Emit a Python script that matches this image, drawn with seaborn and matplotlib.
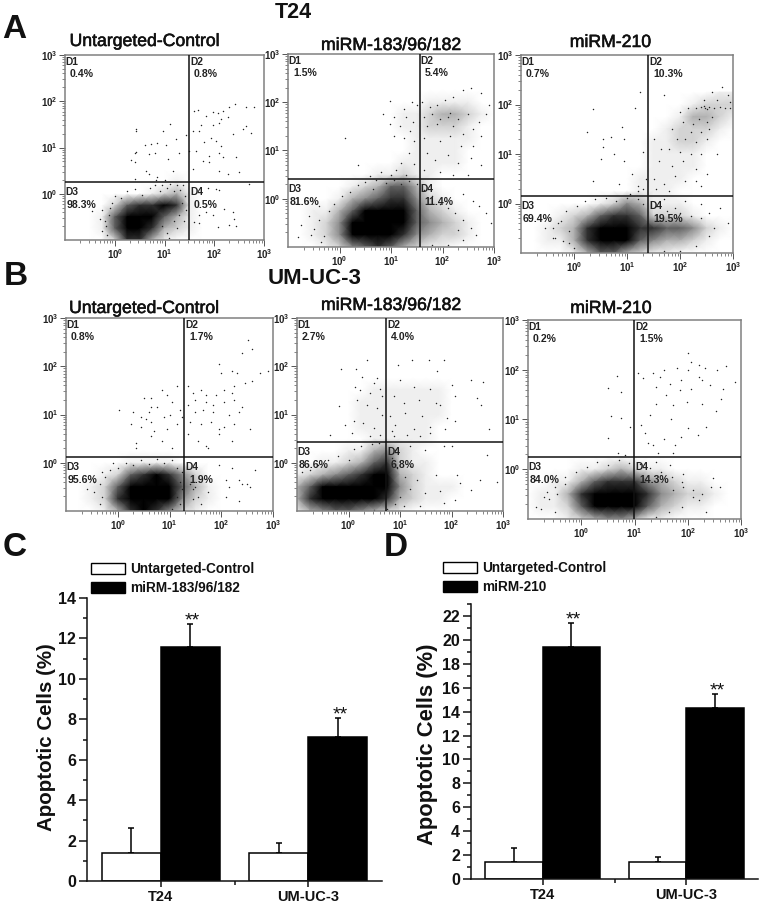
import numpy as np
import pandas as pd
import seaborn as sns
import matplotlib
matplotlib.use("Agg")
import matplotlib.pyplot as plt
import matplotlib.patheffects as pe
from matplotlib.colors import PowerNorm
from matplotlib.ticker import FixedLocator, FixedFormatter, NullFormatter

W, H = 763, 908

# --- flow panels: quadrant percentages (D1, D2, D3, D4)
a1_pct = ["0.4%", "0.8%", "98.3%", "0.5%"]
a2_pct = ["1.5%", "5.4%", "81.6%", "11.4%"]
a3_pct = ["0.7%", "10.3%", "69.4%", "19.5%"]
b1_pct = ["0.8%", "1.7%", "95.6%", "1.9%"]
b2_pct = ["2.7%", "4.0%", "86.6%", "6.8%"]
b3_pct = ["0.2%", "1.5%", "84.0%", "14.3%"]

# quadrant gates, log10 units (x, y)
a1_gate = (1.49, 0.25)
a2_gate = (1.56, 0.41)
a3_gate = (1.40, 0.15)
b1_gate = (1.28, 0.12)
b2_gate = (0.73, 0.43)
b3_gate = (0.99, 0.25)

# cloud darkness read by eye (0 white, 9 black), nodes every 0.25 decade,
# x from -1 to 3, last row is y=-1, going up
a1_cloud = ["00000000000000000",
            "00000000010000000",
            "00000001231000000",
            "00002566761000000",
            "00015997531000000",
            "00015996321000000",
            "00002663100000000"]
a2_cloud = ["00000000000000000",
            "00000000000111100",
            "00000000011233210",
            "00000000011222100",
            "00000000001111100",
            "00000000001111000",
            "00000000011111000",
            "00000001121100000",
            "00000123553100000",
            "00001345664210000",
            "00113578875321000",
            "00124799975432100",
            "00124789864322100",
            "00012456532110000"]
a3_cloud = ["00000000000000011",
            "00000000000001222",
            "00000000000013321",
            "00000000000122210",
            "00000000001122100",
            "00000000001111000",
            "00000000001111000",
            "00000000011110000",
            "00000000011100000",
            "00000012431110000",
            "00012356652221000",
            "00123699866554210",
            "00113699754332100",
            "00001355321100000"]
b1_cloud = ["00000000000000000",
            "00000000000000000",
            "00000111100000000",
            "00012567642000000",
            "00125999853100000",
            "00126999742100000",
            "00013676421000000"]
b2_cloud = ["00000000000000000",
            "00000011111100000",
            "00000111111100000",
            "00000111111100000",
            "00000111111000000",
            "00000011111000000",
            "00001134210000000",
            "00112356211000000",
            "12345677321000000",
            "35789877421110000",
            "36899876321100000",
            "13455432100000000"]
b3_cloud = ["00000000000000000",
            "00000000000000000",
            "00001123211000000",
            "00113566643211000",
            "01136899964322100",
            "01125899853211000",
            "00012344311000000"]

# single events outside the clouds, log10 units
a1_pts = [(0.42,1.41),(0.43,1.35),(1.12,1.5),(0.97,1.35),(1.43,1.27),(0.61,1.05),(0.73,1.07),(0.85,1.10),
          (1.03,1.06),(1.23,1.18),(0.4,0.89),(0.43,0.91),(0.68,0.87),(0.81,0.88),(0.32,0.74),(0.4,0.68),
          (1.07,0.76),(1.3,0.89),(0.63,0.5),(0.68,0.43),(0.85,0.37),(1.17,0.5),(0.4,0.32),(0.83,0.3),(1.0,0.29),
          (1.6,1.79),(1.68,1.82),(1.97,1.76),(2.07,1.75),(2.17,1.79),(2.3,1.88),(2.42,1.94),(2.63,1.88),(2.8,1.88),
          (1.83,1.68),(2.13,1.61),(2.27,1.66),(1.73,1.48),(1.97,1.48),(2.1,1.54),(2.63,1.46),(2.57,1.4),(2.73,1.32),
          (1.57,1.36),(1.7,1.36),(1.93,1.21),(1.8,1.11),(2.03,1.14),(2.13,1.04),(2.37,1.29),(1.5,0.93),(1.63,0.93),
          (1.77,0.71),(1.9,0.82),(2.1,0.89),(2.17,0.79),(2.43,0.79),(1.89,0.68),(2.1,0.5),(2.27,0.43),(2.49,0.46),
          (1.57,0.54),(1.7,-0.46),(1.83,-0.39),(1.97,-0.46),(2.2,-0.32),(2.37,-0.39),(2.4,-0.54),(1.7,-0.64),
          (1.6,-0.61),(2.07,-0.71),(2.3,-0.68),(2.43,-0.7),(2.03,0.11),(2.1,0.09),(1.87,0.12),(2.7,0.21),
          (-0.45,-0.38),(-0.2,-0.6),(-0.25,-0.8),(-0.1,-0.3),(-0.15,-0.9)]
a2_pts = [(.99,2.03),(1.4,2.0),(1.5,1.95),(1.25,1.85),(1.05,1.7),(1.3,1.7),(1.42,1.6),(.85,1.75),(1.18,1.5),
          (1.37,1.4),(.98,1.55),(1.45,1.2),(1.25,1.25),(1.05,1.3),(.1,1.25),(1.35,.95),(1.2,.75),(1.45,.72),
          (1.1,.6),(.35,.7),(.8,.55),(1.0,.5),(.6,.48),(1.3,.5),(1.6,2.0),(1.75,1.9),(1.9,1.95),(2.05,2.05),
          (2.2,2.1),(2.4,2.25),(2.55,2.3),(2.75,2.2),(2.9,1.95),(1.65,1.7),(1.8,1.75),(1.95,1.65),(2.1,1.7),
          (2.15,1.78),(2.3,1.65),(2.5,1.75),(2.7,1.6),(2.85,1.75),(1.7,1.5),(1.9,1.55),(2.2,1.5),(2.4,1.35),
          (2.6,1.45),(2.75,1.3),(1.65,1.25),(1.95,1.2),(2.15,1.3),(2.35,1.1),(2.6,1.1),(1.7,.95),(1.85,.8),
          (2.1,.9),(2.3,.75),(2.55,.85),(2.75,.7),(1.65,.6),(1.95,.55),(2.2,.5),(2.5,.5),(2.85,-.3),(2.95,-.5),
          (2.7,-.15),(2.4,.1),(2.6,-.05),(-.75,-.55),(-.6,-.35),(-.55,-.75),(-.4,-.15),(-.35,-.9),(-.8,-.8)]
a3_pts = [(.35,1.9),(1.15,1.93),(1.25,2.25),(.25,1.45),(.55,1.3),(.9,1.55),(.7,1.35),(.95,1.3),(1.3,1.05),
          (.5,.9),(.95,.85),(.55,1.15),(.75,1.0),(1.1,.6),(.85,.4),(1.2,.35),(1.3,.3),(1.05,.2),(1.2,.25),
          (1.35,.5),(.35,.45),(2.15,1.93),(2.3,1.93),(2.4,1.94),(2.48,1.93),(2.55,1.95),(2.65,1.92),(2.75,1.94),
          (2.85,1.92),(2.95,1.93),(2.5,1.9),(2.45,1.96),(2.6,2.25),(2.8,2.35),(2.9,2.2),(2.45,2.1),(2.7,2.1),
          (2.95,2.05),(1.7,2.2),(2.0,1.85),(2.05,1.65),(2.25,1.6),(2.35,1.7),(2.5,1.65),(2.6,1.75),(2.2,1.45),
          (2.4,1.45),(2.55,1.5),(1.85,1.5),(1.95,1.3),(2.1,1.3),(2.3,1.25),(2.5,1.3),(1.5,1.3),(1.65,1.1),
          (1.8,1.1),(2.0,1.05),(2.2,1.0),(2.4,1.0),(1.6,.85),(1.85,.75),(2.05,.85),(2.3,.7),(2.5,.6),(1.5,.5),
          (1.7,.4),(1.9,.55),(2.1,.45),(2.4,.35),(1.55,.3),(1.8,.25),(2.7,1.0),(2.3,.45),(1.7,.1),(2.1,.05),
          (2.4,.0),(2.75,-.1),(2.9,-.4),(2.65,-.5),(1.9,-.1),(2.55,-.2),(-.4,-.5),(-.3,-.4),(-.35,-.7),
          (-.1,-.55),(-.2,-.75)]
b1_pts = [(.03,1.1),(.3,1.05),(.5,1.35),(.65,1.35),(.85,1.5),(1.15,1.6),(.95,1.4),(1.05,1.25),(.65,1.15),
          (.75,1.15),(.6,1.05),(.45,.95),(.55,.9),(.65,.85),(.9,.95),(1.0,1.0),(1.2,1.1),(.25,.8),(.45,.75),
          (.7,.65),(.95,.7),(1.15,.8),(1.25,.95),(.35,.4),(.35,.3),(.65,.55),(.85,.45),(1.05,.3),(1.35,1.6),
          (1.45,1.45),(1.6,1.5),(1.7,1.4),(1.9,1.4),(2.05,1.5),(2.2,1.45),(2.25,1.6),(2.45,1.65),(2.6,1.7),
          (2.75,1.85),(2.9,1.9),(2.51,2.55),(2.6,2.35),(2.4,2.28),(1.95,2.05),(2.2,1.9),(2.0,1.85),(2.3,1.85),
          (1.5,1.3),(1.7,1.25),(1.85,1.2),(2.05,1.25),(2.25,1.3),(2.4,1.15),(1.35,1.2),(1.5,1.05),(1.65,1.1),
          (1.85,1.05),(2.15,1.0),(2.35,1.05),(1.4,.85),(1.6,.8),(1.8,.85),(1.95,.7),(2.05,.75),(2.25,.8),
          (2.55,.7),(1.35,.6),(1.55,.45),(1.7,.35),(1.75,.3),(1.95,.6),(2.2,.45),(1.95,-.05),(2.2,-.1),
          (2.4,-.45),(2.15,-.5),(2.35,-.35),(2.5,-.45),(2.1,-.35),(2.65,-.15),(2.55,-.5),(2.1,-.7),(1.75,-.6),
          (1.5,-.5),(1.45,-.75),(1.6,-.85),(2.35,-.8),(-.45,-.4),(-.6,-.55),(-.35,-.85),(-.3,-.2),(-.1,.0)]
b2_pts = [(-.14,1.94),(.15,1.95),(.36,2.12),(.26,1.78),(.55,1.76),(.13,1.58),(.42,1.45),(.62,1.52),(.16,1.3),
          (.36,1.2),(.55,1.13),(.65,1.0),(-.06,.79),(.1,.86),(.29,.82),(.49,.72),(-.35,.57),(.07,.62),(.42,.55),
          (.62,.58),(-.19,1.17),(.23,1.5),(.49,1.65),(.65,1.38),(.97,2.03),(1.23,2.12),(1.56,2.12),(1.85,2.12),
          (1.72,1.9),(1.0,1.72),(1.27,1.58),(1.59,1.52),(2.0,1.62),(2.37,1.72),(2.62,1.67),(2.5,1.34),(2.58,1.19),
          (.88,1.38),(1.07,1.24),(1.36,1.31),(1.78,1.2),(2.07,1.38),(.81,.96),(1.1,1.03),(1.43,.96),(1.69,1.24),
          (1.91,.93),(2.07,.86),(.91,.79),(1.27,.69),(1.59,.75),(1.88,.69),(2.72,.69),(.88,.55),(1.14,.58),
          (1.39,.55),(1.59,.62),(.84,.65),(.91,.27),(1.2,.34),(1.49,.27),(1.85,.34),(2.0,.34),(2.69,.17),
          (1.69,-.25),(2.11,-.25),(2.17,-.42),(2.37,-.56),(2.56,-.35),(2.88,-.39),(1.78,-.59),(1.49,-.63),
          (2.07,-.77),(1.39,-.9),(1.07,-.9),(1.85,-.83),(1.33,-.35),(1.2,-.07)]
b3_pts = [(.68,1.87),(.51,1.64),(.74,1.56),(.55,1.07),(.74,1.03),(.91,.85),(.51,.62),(.69,.32),(.82,.28),
          (2.0,2.34),(2.07,2.16),(2.22,2.09),(2.71,2.07),(2.54,1.99),(2.32,2.03),(2.0,1.99),(1.79,2.03),
          (1.55,1.99),(1.35,1.93),(1.07,1.93),(1.16,1.83),(1.47,1.86),(1.88,1.79),(2.22,1.85),(2.26,1.79),
          (2.41,1.69),(2.88,1.76),(2.66,1.62),(1.41,1.66),(1.66,1.72),(1.85,1.59),(2.07,1.62),(1.6,1.49),
          (1.98,1.36),(2.27,1.32),(2.63,1.42),(1.41,1.32),(1.73,1.29),(1.29,1.09),(1.69,1.02),(2.53,1.17),
          (1.13,.89),(2.0,.82),(2.34,.85),(2.19,.68),(1.19,.72),(1.55,.6),(1.88,.65),(1.26,.52),(1.76,.48),
          (1.35,.48),(1.73,.32),(1.44,.32),(1.41,.15),(1.66,.08),(1.91,-.09),(2.47,-.17),(2.44,-.36),(2.6,-.36),
          (2.1,-.41),(2.26,-.49),(1.91,-.36),(2.22,-.62),(2.35,-.86),(1.73,-.42),(-.6,-.6),(-.75,-.8),(-.45,-.5),
          (-.5,-.85),(-.3,-.3),(-.65,-.45)]

# events along the rim of each cloud
a1_edge = [(-.3,-.55),(-.25,-.35),(-.18,-.7),(-.12,-.45),(-.05,-.2),(0,-.05),(.12,-.1),(.25,.05),(.4,.1),(.55,-.02),
           (.7,.12),(.8,.2),(.9,.05),(.95,.18),(1.05,.12),(1.12,.22),(1.2,.05),(1.25,.18),(1.32,.08),(1.38,.2),
           (1.42,-.05),(1.35,-.2),(1.44,-.35),(1.3,-.45),(1.4,-.6),(1.2,-.6),(1.25,-.75),(1.05,-.85),(.95,-.7),(1.1,-.95)]
a2_edge = [(-.4,-.45),(-.5,-.62),(-.3,-.78),(-.2,-.25),(-.1,-.1),(.05,.05),(.2,.15),(.35,.28),(.5,.35),(.65,.2),
           (.7,.38),(.9,.33),(1.05,.39),(1.2,.3),(1.35,.37),(1.5,.3),(1.65,.18),(1.8,.05),(1.95,-.1),(2.1,-.2),
           (2.25,-.3),(2.4,-.45),(2.55,-.6),(2.65,-.75),(2.4,-.85),(2.1,-.95),(1.8,-.95),(2.3,-.65)]
a3_edge = [(-.55,-.5),(-.4,-.7),(-.25,-.35),(-.15,-.15),(.05,-.05),(.2,.05),(.4,.1),(.6,.12),(.8,.05),(1.0,.12),
           (1.2,.1),(1.3,-.02),(1.55,-.05),(1.75,-.15),(2.0,-.2),(2.2,-.25),(2.4,-.3),(2.55,-.65),(2.3,-.85),
           (2.0,-.95),(1.7,-.95),(.0,-.9),(-.1,-.8)]
b1_edge = [(-.45,-.6),(-.35,-.45),(-.25,-.3),(-.3,-.7),(-.15,-.15),(0,-.1),(.15,.0),(.3,-.05),(.45,.05),(.6,-.02),
           (.75,.08),(.9,.0),(1.05,.05),(1.15,-.1),(1.25,-.2),(1.2,-.4),(1.25,-.55),(1.15,-.7),(1.2,-.85),
           (1.05,-.95),(1.4,-.45),(1.45,-.55),(1.55,-.7)]
b2_edge = [(-.9,-.2),(-.75,-.15),(-.6,-.05),(-.4,.05),(-.2,.15),(0,.05),(.1,.28),(.25,.35),(.45,.38),(.6,.4),
           (.85,.1),(.95,-.1),(1.1,-.3),(1.2,-.55),(1.0,-.7),(.9,-.85),(.75,-.95),(.5,-.97)]
b3_edge = [(-.85,-.75),(-.7,-.55),(-.5,-.35),(-.3,-.15),(-.1,-.05),(.1,.05),(.3,.15),(.5,.08),(.7,.18),(.9,.12),
           (1.1,.1),(1.3,.02),(1.5,-.05),(1.7,-.15),(1.9,-.25),(2.1,-.55),(1.9,-.75),(1.65,-.85),(1.4,-.95)]

# --- bar panels
cats = ["T24", "UM-UC-3"]
control_name = "Untargeted-Control"
c_name = "miRM-183/96/182"
d_name = "miRM-210"
c_control = [1.40, 1.38]
c_treated = [11.6, 7.1]
c_control_err = [1.23, 0.49]
c_treated_err = [1.12, 0.95]
d_control = [1.45, 1.40]
d_treated = [19.4, 14.3]
d_control_err = [1.15, 0.45]
d_treated_err = [2.05, 1.15]

sns.set_theme(style="ticks")
plt.rcParams["font.family"] = ["Liberation Sans", "DejaVu Sans"]
plt.rcParams["mathtext.fontset"] = "custom"
plt.rcParams["mathtext.bf"] = "Liberation Sans:bold"

fig = plt.figure(figsize=(W / 100, H / 100), dpi=100, facecolor="white")


def px_axes(left, top, right, bottom):
    return fig.add_axes([left / W, 1 - bottom / H, (right - left) / W, (bottom - top) / H])


def px_text(x, y, s, **kw):
    return fig.text(x / W, 1 - y / H, s, va="baseline", color="#111111", **kw)


def flow_panel(box, gate, cloud, pts, pct, title, title_x, title_y):
    ax = px_axes(*box)
    ax.set_xscale("log")
    ax.set_yscale("log")

    rows = np.array([[int(c) for c in row] for row in cloud])
    xn = 10.0 ** np.linspace(-1, 3, rows.shape[1])
    yn = 10.0 ** (-1 + 0.25 * np.arange(rows.shape[0])[::-1])
    ax.pcolormesh(xn, yn, rows, shading="gouraud", cmap="gray_r",
                  norm=PowerNorm(gamma=1.4, vmin=0, vmax=7, clip=True), zorder=1)

    xs = 10.0 ** np.array([p[0] for p in pts])
    ys = 10.0 ** np.array([p[1] for p in pts])
    sns.scatterplot(x=xs, y=ys, s=1.1, color="#222222", linewidth=0, ax=ax, zorder=2, legend=False)

    ax.set_xlim(0.1, 1000)
    ax.set_ylim(0.1, 1000)
    gx, gy = 10.0 ** gate[0], 10.0 ** gate[1]
    ax.axvline(gx, color="#111111", lw=1.1, zorder=3)
    ax.axhline(gy, color="#111111", lw=1.1, zorder=3)

    for side in ax.spines.values():
        side.set_color("#808080")
        side.set_linewidth(1.1)
    minors = [m * 10.0 ** d for d in (-1, 0, 1, 2) for m in range(2, 10)]
    majors = [1, 10, 100, 1000]
    labels = [r"$\mathbf{10^{%d}}$" % i for i in range(4)]
    for axis in (ax.xaxis, ax.yaxis):
        axis.set_major_locator(FixedLocator(majors))
        axis.set_major_formatter(FixedFormatter(labels))
        axis.set_minor_locator(FixedLocator(minors))
        axis.set_minor_formatter(NullFormatter())
    ax.tick_params(which="major", length=4, width=0.7, color="#555555", labelsize=7,
                   labelcolor="#222222", pad=1.5)
    ax.tick_params(which="minor", length=2, width=0.5, color="#555555")

    # quadrant names and percentages, offsets in pixels
    left, top = 0.1, 1000
    spots = [(left, top, 0, -10, 5, -22), (gx, top, 1, -10, 5, -22),
             (left, gy, 0, -13, 2, -26), (gx, gy, 1, -13, 5, -26)]
    for i, (qx, qy, nx, ny, px, py) in enumerate(spots):
        ax.annotate("D%d" % (i + 1), (qx, qy), xytext=(nx * 0.72, ny * 0.72), textcoords="offset points",
                    fontsize=7.4, fontweight="bold", color="#222222", zorder=4)
        ax.annotate(pct[i], (qx, qy), xytext=(px * 0.72, py * 0.72), textcoords="offset points",
                    fontsize=7.6, fontweight="bold", color="#222222", zorder=4)
    t = px_text(title_x, title_y, title, ha="center", fontsize=12.7)
    t.set_path_effects([pe.withStroke(linewidth=0.4, foreground="#111111")])


def bar_panel(box, control, treated, control_err, treated_err, name, ymax, yticks, ykeep, legend_xy,
              ylabel_x, ylabel_y, ylabel_size):
    ax = px_axes(*box)
    df = pd.DataFrame({
        "cell": cats + cats,
        "value": control + treated,
        "group": [control_name] * 2 + [name] * 2,
    })
    sns.barplot(data=df, x="cell", y="value", hue="group", palette=["white", "black"],
                edgecolor="black", linewidth=1.1, width=0.8, gap=0, errorbar=None, ax=ax, zorder=2)
    errs = [control_err, treated_err]
    for c, cont in enumerate(list(ax.containers)):
        for b, bar in enumerate(cont):
            cx = bar.get_x() + bar.get_width() / 2
            top = bar.get_height()
            ax.errorbar(cx, top, yerr=[[0], [errs[c][b]]], color="black", lw=1.1, capsize=2,
                        capthick=1.1, zorder=1)
            if c == 1:
                ax.annotate("**", (cx, top + errs[c][b]), xytext=(1.5, -1.2), textcoords="offset points",
                            ha="center", va="baseline", fontsize=14, color="#111111")
    ax.set_xlim(-0.5, 1.5)
    ax.set_ylim(0, ymax)
    ax.set_xlabel("")
    ax.set_ylabel("")
    sns.despine(ax=ax)
    for s in ("left", "bottom"):
        ax.spines[s].set_linewidth(1.1)
        ax.spines[s].set_color("#111111")
    ax.set_yticks(yticks)
    ax.yaxis.set_minor_locator(FixedLocator(ykeep))
    ax.xaxis.set_minor_locator(FixedLocator([0.5]))
    ax.tick_params(which="major", length=6, width=1.1, color="#111111", labelsize=11.5, labelcolor="#111111", pad=2)
    ax.tick_params(which="minor", length=3, width=1.1, color="#111111")
    ax.tick_params(axis="x", which="major", labelsize=10.5, length=4, pad=2.5)
    for lab in ax.get_yticklabels() + ax.get_xticklabels():
        lab.set_fontweight("bold")
    px_text(ylabel_x, ylabel_y, "Apoptotic Cells (%)", rotation=90, ha="center", rotation_mode="anchor",
            fontsize=ylabel_size, fontweight="bold")
    leg = ax.legend(loc="upper left", bbox_to_anchor=(legend_xy[0] / W, 1 - legend_xy[1] / H),
                    bbox_transform=fig.transFigure, frameon=False, borderpad=0, borderaxespad=0,
                    handlelength=2.5, handleheight=0.9, handletextpad=0.4, labelspacing=0.4,
                    prop={"size": 9.8, "weight": "bold"}, labelcolor="#111111")
    for h in leg.get_patches():
        h.set_edgecolor("black")
        h.set_linewidth(1.0)
    return ax


flow_panel((65, 55, 264, 240), a1_gate, a1_cloud, a1_pts + a1_edge, a1_pct, "Untargeted-Control", 144.5, 46)
flow_panel((288, 54, 494, 247), a2_gate, a2_cloud, a2_pts + a2_edge, a2_pct, "miRM-183/96/182", 391, 50)
flow_panel((521, 55, 733, 253), a3_gate, a3_cloud, a3_pts + a3_edge, a3_pct, "miRM-210", 610.5, 47)
flow_panel((66, 318, 273, 511), b1_gate, b1_cloud, b1_pts + b1_edge, b1_pct, "Untargeted-Control", 144, 313)
flow_panel((297, 318, 503, 511), b2_gate, b2_cloud, b2_pts + b2_edge, b2_pct, "miRM-183/96/182", 391, 310)
flow_panel((528, 320, 741, 519), b3_gate, b3_cloud, b3_pts + b3_edge, b3_pct, "miRM-210", 611, 313)

bar_panel((87, 598, 382, 881), c_control, c_treated, c_control_err, c_treated_err, c_name,
          14, list(range(0, 15, 2)), list(range(1, 14, 2)), (91, 562), 52, 737, 14.8)
bar_panel((471, 604, 758, 879), d_control, d_treated, d_control_err, d_treated_err, d_name,
          23, list(range(0, 23, 2)), list(range(1, 24, 2)), (443, 561), 433, 744, 15.8)

px_text(2, 38, "A", fontsize=24, fontweight="bold")
px_text(4, 285, "B", fontsize=24, fontweight="bold")
px_text(3, 556, "C", fontsize=24, fontweight="bold")
px_text(384, 556, "D", fontsize=24, fontweight="bold")
px_text(293, 18, "T24", ha="center", fontsize=15.5, fontweight="bold")
px_text(315, 284, "UM-UC-3", ha="center", fontsize=16, fontweight="bold")

fig.savefig("out.png", dpi=100)
